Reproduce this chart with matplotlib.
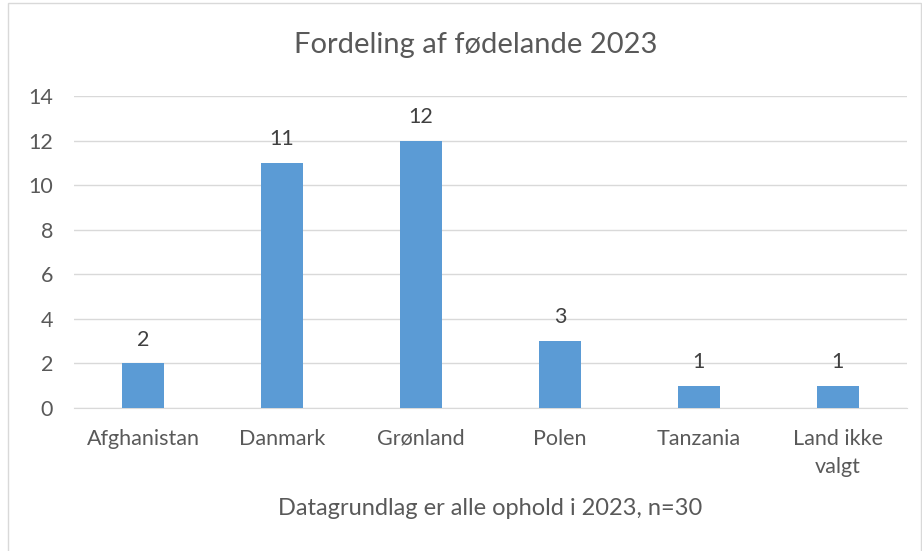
import matplotlib.pyplot as plt
from matplotlib.patches import Rectangle

lande = ["Afghanistan", "Danmark", "Grønland", "Polen", "Tanzania", "Land ikke\nvalgt"]
antal = [2, 11, 12, 3, 1, 1]

plt.rcParams['font.family'] = ['Lato', 'DejaVu Sans']
tekst = "#595959"

fig = plt.figure(figsize=(9.22, 5.51), dpi=100)
ax = fig.add_axes([0.080, 0.2595, 0.904, 0.5663])

x = range(len(lande))
bars = ax.bar(x, antal, width=0.30, color="#5B9BD5", zorder=3)
for b, v in zip(bars, antal):
    ax.annotate(str(v), (b.get_x() + b.get_width() / 2, v), xytext=(0, 10),
                textcoords="offset points", ha="center", va="bottom",
                fontsize=15.5, color="#404040")

ax.set_xlim(-0.5, len(lande) - 0.5)
ax.set_ylim(0, 14)
ax.set_yticks(range(0, 15, 2))
ax.set_xticks(list(x))
ax.set_xticklabels(lande, linespacing=1.5)
ax.grid(axis="y", color="#D9D9D9", linewidth=1, zorder=0)
for s in ["top", "right", "left"]:
    ax.spines[s].set_visible(False)
ax.spines["bottom"].set_color("#D9D9D9")
ax.tick_params(axis="both", length=0, labelsize=15.5, labelcolor=tekst)
ax.tick_params(axis="x", pad=15)
ax.tick_params(axis="y", pad=15)

fig.text(0.516, 1 - 45 / 551, "Fordeling af fødelande 2023", fontsize=21,
         color=tekst, ha="center", va="center")
ax.set_xlabel("Datagrundlag er alle ophold i 2023, n=30", fontsize=17, color=tekst, labelpad=15)

fig.patches.append(Rectangle((0.009, -0.01), 0.99, 1 - 3 / 551 + 0.01,
                             transform=fig.transFigure, fill=False,
                             edgecolor="#D9D9D9", linewidth=1))

fig.savefig("out.png", dpi=100)
